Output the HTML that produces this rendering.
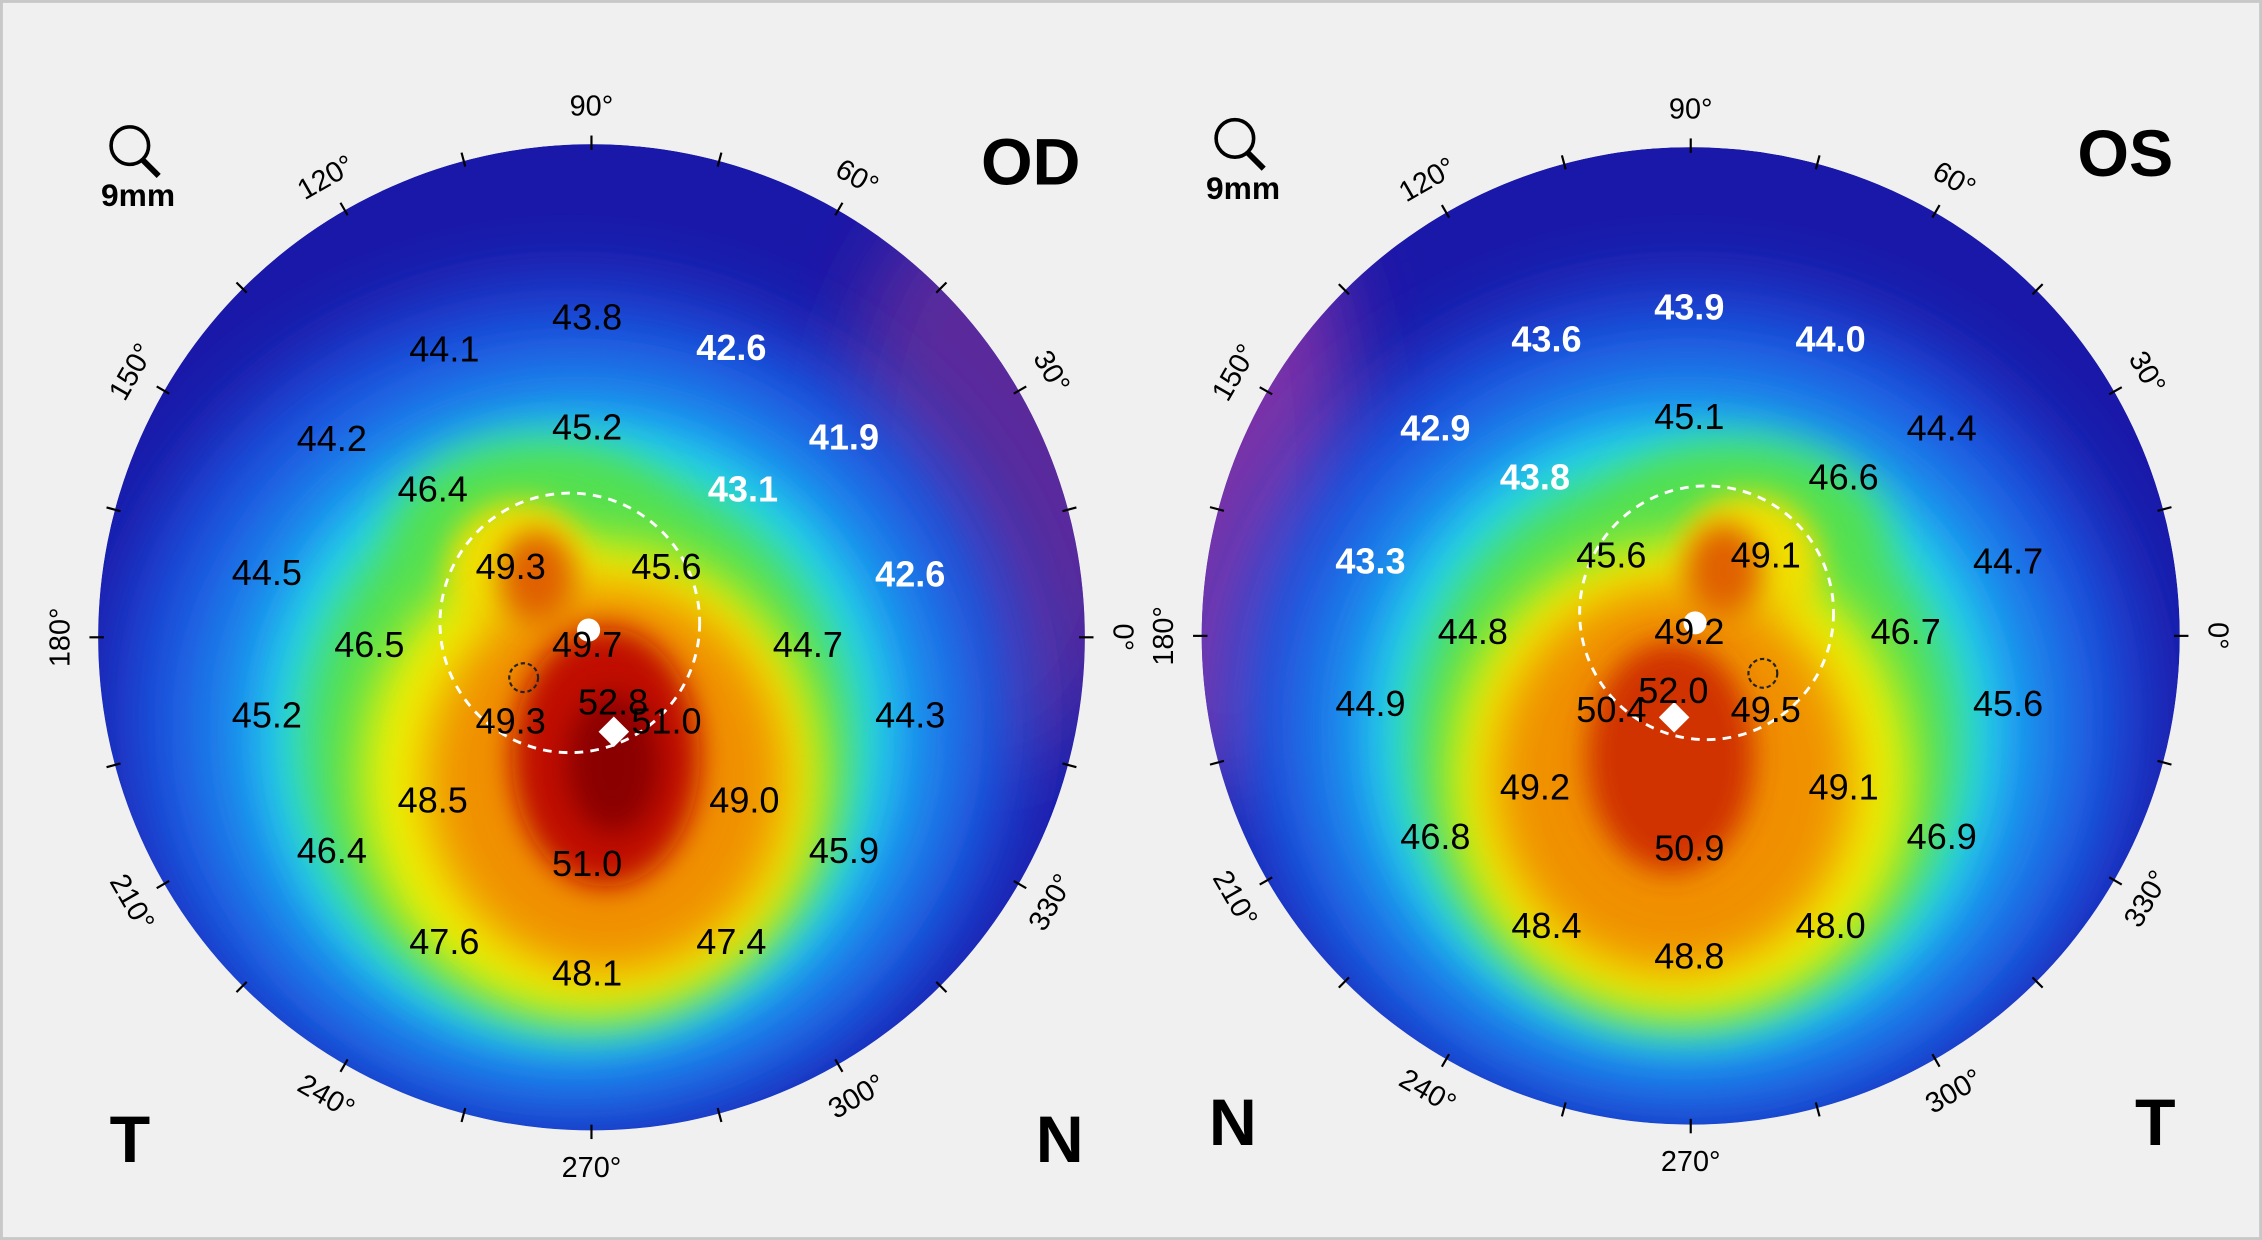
<!DOCTYPE html>
<html><head><meta charset="utf-8"><style>
html,body{margin:0;padding:0;background:#f0f0f0;}
svg{display:block}
text{font-family:"Liberation Sans",sans-serif}
.n{font-size:25px;fill:#000;text-anchor:middle;dominant-baseline:central}
.w{font-size:25px;fill:#fff;font-weight:bold;text-anchor:middle;dominant-baseline:central}
.d{font-size:20px;fill:#000;text-anchor:middle;dominant-baseline:central}
.big{font-size:46px;fill:#000;font-weight:bold}
</style></head><body>
<svg width="2262" height="1240" viewBox="0 0 1568 860" preserveAspectRatio="none" xmlns="http://www.w3.org/2000/svg">
<defs>
<filter id="b1" x="-50%" y="-50%" width="200%" height="200%"><feGaussianBlur stdDeviation="28"/></filter>
<filter id="b2" x="-50%" y="-50%" width="200%" height="200%"><feGaussianBlur stdDeviation="16"/></filter>
<filter id="b3" x="-50%" y="-50%" width="200%" height="200%"><feGaussianBlur stdDeviation="10"/></filter>
<clipPath id="cl"><circle cx="410" cy="442" r="342"/></clipPath>
<clipPath id="cr"><circle cx="1172" cy="441" r="339"/></clipPath>
</defs>
<rect x="0" y="0" width="1568" height="860" fill="#f0f0f0"/>
<rect x="1" y="1" width="1566" height="858" fill="none" stroke="#c8c8c8" stroke-width="2"/>

<!-- LEFT MAP -->
<g clip-path="url(#cl)">
<circle cx="410" cy="442" r="342" fill="#1a18a8"/>
<ellipse cx="690" cy="330" rx="110" ry="200" fill="#5a2c9c" filter="url(#b1)"/>
<ellipse cx="395" cy="495" rx="315" ry="295" fill="#1c52e0" filter="url(#b1)"/>
<ellipse cx="400" cy="505" rx="255" ry="245" fill="#1ea0f0" filter="url(#b1)"/>
<ellipse cx="400" cy="510" rx="215" ry="215" fill="#22d8ec" filter="url(#b2)"/>
<ellipse cx="400" cy="515" rx="190" ry="192" fill="#52e050" filter="url(#b2)"/>
<ellipse cx="370" cy="370" rx="95" ry="62" fill="#52e050" filter="url(#b2)"/>
<ellipse cx="410" cy="540" rx="160" ry="165" fill="#f0f000" filter="url(#b2)"/>
<ellipse cx="360" cy="395" rx="50" ry="48" fill="#f0e000" filter="url(#b3)"/>
<ellipse cx="420" cy="540" rx="125" ry="135" fill="#f09000" filter="url(#b2)"/>
<ellipse cx="372" cy="400" rx="26" ry="32" fill="#e06000" filter="url(#b3)"/>
<ellipse cx="420" cy="525" rx="65" ry="90" fill="#c01000" filter="url(#b3)"/>
<ellipse cx="425" cy="530" rx="32" ry="48" fill="#8a0000" filter="url(#b3)"/>
</g>
<circle cx="395" cy="432" r="90" fill="none" stroke="#fff" stroke-width="2" stroke-dasharray="6,5"/>
<circle cx="363" cy="470" r="10" fill="none" stroke="#222" stroke-width="1.5" stroke-dasharray="3,2"/>
<circle cx="408" cy="437" r="8" fill="#fff"/>
<rect x="418" y="500" width="15" height="15" fill="#fff" transform="rotate(45 425.5 507.5)"/>

<!-- RIGHT MAP -->
<g clip-path="url(#cr)">
<circle cx="1172" cy="441" r="339" fill="#1a18a8"/>
<ellipse cx="850" cy="330" rx="90" ry="220" fill="#7a30a8" filter="url(#b1)"/>
<ellipse cx="1170" cy="495" rx="315" ry="295" fill="#1c52e0" filter="url(#b1)"/>
<ellipse cx="1170" cy="505" rx="255" ry="245" fill="#1ea0f0" filter="url(#b1)"/>
<ellipse cx="1168" cy="510" rx="215" ry="215" fill="#22d8ec" filter="url(#b2)"/>
<ellipse cx="1168" cy="515" rx="190" ry="192" fill="#52e050" filter="url(#b2)"/>
<ellipse cx="1210" cy="370" rx="95" ry="62" fill="#52e050" filter="url(#b2)"/>
<ellipse cx="1165" cy="540" rx="160" ry="165" fill="#f0f000" filter="url(#b2)"/>
<ellipse cx="1212" cy="390" rx="50" ry="48" fill="#f0e000" filter="url(#b3)"/>
<ellipse cx="1160" cy="540" rx="125" ry="135" fill="#f09000" filter="url(#b2)"/>
<ellipse cx="1195" cy="395" rx="26" ry="32" fill="#e06000" filter="url(#b3)"/>
<ellipse cx="1158" cy="525" rx="58" ry="80" fill="#d03000" filter="url(#b3)"/>
</g>
<circle cx="1183" cy="425" r="88" fill="none" stroke="#fff" stroke-width="2" stroke-dasharray="6,5"/>
<circle cx="1222" cy="467" r="10" fill="none" stroke="#222" stroke-width="1.5" stroke-dasharray="3,2"/>
<circle cx="1175" cy="432" r="8" fill="#fff"/>
<rect x="1153" y="490" width="15" height="15" fill="#fff" transform="rotate(45 1160.5 497.5)"/>

<g id="ticks" stroke="#000" stroke-width="1.5"></g>
<g id="deg"></g>

<!-- LEFT numbers -->
<text class="n" x="407" y="220">43.8</text>
<text class="n" x="308" y="242">44.1</text>
<text class="w" x="507" y="241">42.6</text>
<text class="n" x="230" y="304">44.2</text>
<text class="n" x="407" y="296">45.2</text>
<text class="w" x="585" y="303">41.9</text>
<text class="n" x="300" y="339">46.4</text>
<text class="w" x="515" y="339">43.1</text>
<text class="n" x="185" y="397">44.5</text>
<text class="n" x="354" y="393">49.3</text>
<text class="n" x="462" y="393">45.6</text>
<text class="w" x="631" y="398">42.6</text>
<text class="n" x="256" y="447">46.5</text>
<text class="n" x="407" y="447">49.7</text>
<text class="n" x="560" y="447">44.7</text>
<text class="n" x="185" y="496">45.2</text>
<text class="n" x="354" y="500">49.3</text>
<text class="n" x="425" y="487">52.8</text>
<text class="n" x="462" y="500">51.0</text>
<text class="n" x="631" y="496">44.3</text>
<text class="n" x="300" y="555">48.5</text>
<text class="n" x="516" y="555">49.0</text>
<text class="n" x="230" y="590">46.4</text>
<text class="n" x="407" y="599">51.0</text>
<text class="n" x="585" y="590">45.9</text>
<text class="n" x="308" y="653">47.6</text>
<text class="n" x="507" y="653">47.4</text>
<text class="n" x="407" y="675">48.1</text>

<!-- RIGHT numbers -->
<text class="w" x="1171" y="213">43.9</text>
<text class="w" x="1072" y="235">43.6</text>
<text class="w" x="1269" y="235">44.0</text>
<text class="w" x="995" y="297">42.9</text>
<text class="n" x="1171" y="289">45.1</text>
<text class="n" x="1346" y="297">44.4</text>
<text class="w" x="1064" y="331">43.8</text>
<text class="n" x="1278" y="331">46.6</text>
<text class="w" x="950" y="389">43.3</text>
<text class="n" x="1117" y="385">45.6</text>
<text class="n" x="1224" y="385">49.1</text>
<text class="n" x="1392" y="389">44.7</text>
<text class="n" x="1021" y="438">44.8</text>
<text class="n" x="1171" y="438">49.2</text>
<text class="n" x="1321" y="438">46.7</text>
<text class="n" x="950" y="488">44.9</text>
<text class="n" x="1117" y="492">50.4</text>
<text class="n" x="1160" y="479">52.0</text>
<text class="n" x="1224" y="492">49.5</text>
<text class="n" x="1392" y="488">45.6</text>
<text class="n" x="1064" y="546">49.2</text>
<text class="n" x="1278" y="546">49.1</text>
<text class="n" x="995" y="580">46.8</text>
<text class="n" x="1171" y="588">50.9</text>
<text class="n" x="1346" y="580">46.9</text>
<text class="n" x="1072" y="642">48.4</text>
<text class="n" x="1269" y="642">48.0</text>
<text class="n" x="1171" y="663">48.8</text>

<text class="big" x="680" y="128">OD</text>
<text class="big" x="1440" y="122">OS</text>
<text class="big" x="76" y="806">T</text>
<text class="big" x="718" y="806">N</text>
<text class="big" x="838" y="794">N</text>
<text class="big" x="1480" y="794">T</text>

<g fill="none" stroke="#000" stroke-width="2.5">
<circle cx="90" cy="101" r="13"/><line x1="99" y1="111" x2="110" y2="122" stroke-width="4"/>
<circle cx="856" cy="96" r="13"/><line x1="865" y1="106" x2="876" y2="117" stroke-width="4"/>
</g>
<text x="70" y="143" style="font-size:22px;font-weight:bold">9mm</text>
<text x="836" y="138" style="font-size:22px;font-weight:bold">9mm</text>
</svg>
<script>
(function(){
var ns="http://www.w3.org/2000/svg";
var t=document.getElementById("ticks"),d=document.getElementById("deg");
var maps=[[410,442,342],[1172,441,339]];
maps.forEach(function(m){
 for(var a=0;a<360;a+=15){
  var r=a*Math.PI/180,c=Math.cos(r),s=-Math.sin(r);
  var l=document.createElementNS(ns,"line");
  l.setAttribute("x1",m[0]+c*(m[2]-4));l.setAttribute("y1",m[1]+s*(m[2]-4));
  l.setAttribute("x2",m[0]+c*(m[2]+6));l.setAttribute("y2",m[1]+s*(m[2]+6));
  t.appendChild(l);
  if(a%30==0){
   var R=m[2]+26,x=m[0]+c*R,y=m[1]+s*R;
   var rot=(a<=180)?90-a:270-a;
   var tx=document.createElementNS(ns,"text");
   tx.setAttribute("class","d");tx.setAttribute("x",x);tx.setAttribute("y",y);
   tx.setAttribute("transform","rotate("+rot+" "+x+" "+y+")");
   tx.textContent=a+"°";d.appendChild(tx);
  }
 }
});
})();
</script>
</body></html>
